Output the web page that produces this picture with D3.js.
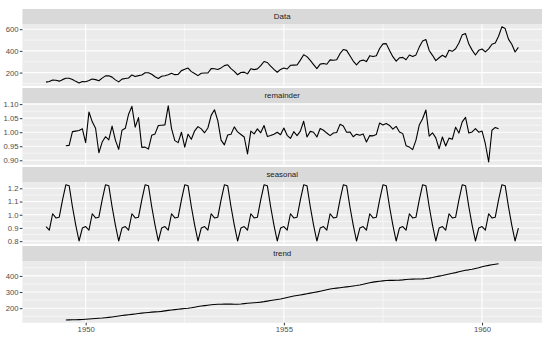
<!DOCTYPE html>
<html>
<head>
<meta charset="utf-8">
<script src="https://cdn.jsdelivr.net/npm/d3@7"></script>
<style>
  body { margin: 0; background: #fff; }
  svg { display: block; font-family: "Liberation Sans", Arial, sans-serif; }
</style>
</head>
<body>
<svg id="chart" width="550" height="338"></svg>
<script>
// monthly passengers, Jan 1949 .. Dec 1960
const passengers = [
  112, 118, 132, 129, 121, 135, 148, 148, 136, 119, 104, 118,
  115, 126, 141, 135, 125, 149, 170, 170, 158, 133, 114, 140,
  145, 150, 178, 163, 172, 178, 199, 199, 184, 162, 146, 166,
  171, 180, 193, 181, 183, 218, 230, 242, 209, 191, 172, 194,
  196, 196, 236, 235, 229, 243, 264, 272, 237, 211, 180, 201,
  204, 188, 235, 227, 234, 264, 302, 293, 259, 229, 203, 229,
  242, 233, 267, 269, 270, 315, 364, 347, 312, 274, 237, 278,
  284, 277, 317, 313, 318, 374, 413, 405, 355, 306, 271, 306,
  315, 301, 356, 348, 355, 422, 465, 467, 404, 347, 305, 336,
  340, 318, 362, 348, 363, 435, 491, 505, 404, 359, 310, 337,
  360, 342, 406, 396, 420, 472, 548, 559, 463, 407, 362, 405,
  417, 391, 419, 461, 472, 535, 622, 606, 508, 461, 390, 432
];

// trend, Jul 1949 .. Jun 1960
const trend = [
  126.79, 127.25, 127.96, 128.58, 129.00, 129.75,
  131.25, 133.08, 134.92, 136.42, 137.42, 138.75, 140.92, 143.17, 145.71, 148.42, 151.54, 154.71,
  157.13, 159.54, 161.83, 164.13, 166.67, 169.08, 171.25, 173.58, 175.46, 176.83, 178.04, 180.17,
  183.13, 186.21, 189.04, 191.29, 193.58, 195.83, 198.04, 199.75, 202.21, 206.25, 210.42, 213.38,
  215.83, 218.50, 220.92, 222.92, 224.08, 224.71, 225.33, 225.33, 224.96, 224.58, 224.46, 225.54,
  228.00, 230.46, 232.25, 233.92, 235.63, 237.75, 240.50, 243.96, 247.17, 250.25, 253.50, 257.13,
  261.83, 266.67, 271.13, 275.21, 278.50, 281.96, 285.75, 289.33, 293.25, 297.17, 301.00, 305.46,
  309.96, 314.42, 318.63, 321.75, 324.50, 327.08, 329.54, 331.83, 334.46, 337.54, 340.54, 344.08,
  348.25, 353.00, 357.63, 361.38, 364.50, 367.17, 369.46, 371.21, 372.17, 372.42, 372.75, 373.63,
  375.25, 377.92, 379.50, 380.00, 380.71, 380.96, 381.83, 383.67, 386.50, 390.33, 394.71, 398.63,
  402.54, 407.17, 411.88, 416.33, 420.50, 425.50, 430.71, 435.13, 437.71, 440.96, 445.83, 450.63,
  456.33, 461.38, 465.21, 469.33, 472.75, 475.04
];

// remainder, Jul 1949 .. Jun 1960
const remainder = [
  0.952, 0.953, 1.002, 1.004, 1.006, 1.012,
  0.963, 1.072, 1.037, 1.014, 0.927, 0.965, 0.984, 0.973, 1.022, 0.972, 0.939, 1.007,
  1.014, 1.064, 1.092, 1.018, 1.052, 0.946, 0.947, 0.940, 0.989, 0.994, 1.024, 1.025,
  1.026, 1.094, 1.013, 0.970, 0.963, 1.000, 0.947, 0.993, 0.975, 1.005, 1.020, 1.012,
  0.998, 1.015, 1.060, 1.080, 1.041, 0.972, 0.955, 0.990, 0.993, 1.019, 1.001, 0.992,
  0.983, 0.923, 1.004, 0.994, 1.012, 0.998, 1.024, 0.985, 0.988, 0.993, 1.000, 0.991,
  1.015, 0.989, 0.978, 1.002, 0.988, 1.004, 1.039, 0.983, 1.003, 1.000, 0.983, 1.013,
  1.007, 0.997, 0.988, 0.997, 0.999, 1.028, 1.022, 1.000, 1.001, 0.984, 0.993, 0.989,
  0.994, 0.965, 0.988, 0.987, 0.992, 1.033, 1.026, 1.031, 1.024, 1.011, 1.021, 1.001,
  0.995, 0.952, 0.947, 0.938, 0.972, 1.026, 1.048, 1.079, 0.986, 0.998, 0.980, 0.941,
  0.983, 0.951, 0.979, 0.975, 1.018, 0.997, 1.037, 1.053, 0.997, 1.001, 1.013, 1.000,
  1.004, 0.959, 0.894, 1.007, 1.017, 1.012
];

// seasonal figure, Jan .. Dec
const seasonalFigure = [0.9102, 0.8836, 1.0074, 0.9759, 0.9814, 1.1128,
                        1.2266, 1.2199, 1.0605, 0.9218, 0.8012, 0.8988];

const dataTicks = [200, 400, 600];
const remainderTicks = [0.90, 0.95, 1.00, 1.05, 1.10];
const seasonalTicks = [0.8, 0.9, 1.0, 1.1, 1.2];
const trendTicks = [200, 300, 400];
const yearTicks = [1950, 1955, 1960];

const startYear = 1949;
const trendStart = 1949.5;

// layout
const padL = 22.4, padR = 542;
const padT = 9, stripH = 15, panelH = 61.8, gap = 2.2;

const toSeries = (vals, start) => vals.map((v, i) => ({ t: start + i / 12, v }));

const panels = [
  { name: 'Data', series: toSeries(passengers, startYear), ticks: dataTicks, fmt: d3.format('d') },
  { name: 'remainder', series: toSeries(remainder, trendStart), ticks: remainderTicks, fmt: d3.format('.2f') },
  { name: 'seasonal', series: passengers.map((_, i) => ({ t: startYear + i / 12, v: seasonalFigure[i % 12] })),
    ticks: seasonalTicks, fmt: d3.format('.1f') },
  { name: 'trend', series: toSeries(trend, trendStart), ticks: trendTicks, fmt: d3.format('d') }
];

function expand([a, b]) {
  const p = (b - a) * 0.05;
  return [a - p, b + p];
}

// ggplot-style minor breaks: midpoints between majors, inside the limits
function minorBreaks(ticks, domain) {
  const step = ticks[1] - ticks[0];
  const ext = [ticks[0] - step, ...ticks, ticks[ticks.length - 1] + step];
  const out = [];
  for (let i = 0; i < ext.length - 1; i++) {
    const m = (ext[i] + ext[i + 1]) / 2;
    if (m >= domain[0] && m <= domain[1]) out.push(m);
  }
  return out;
}

const svg = d3.select('#chart');

const xDomain = expand([startYear, startYear + (passengers.length - 1) / 12]);
const x = d3.scaleLinear().domain(xDomain).range([padL, padR]);
const xMinor = minorBreaks(yearTicks, xDomain);

panels.forEach((p, i) => {
  const y0 = padT + i * (stripH + panelH + gap);
  const g = svg.append('g').attr('transform', `translate(0,${y0})`);

  // strip
  g.append('rect')
    .attr('x', padL).attr('y', 0)
    .attr('width', padR - padL).attr('height', stripH)
    .attr('fill', '#D9D9D9');
  g.append('text')
    .attr('x', (padL + padR) / 2)
    .attr('y', stripH / 2)
    .attr('dy', '0.35em')
    .attr('text-anchor', 'middle')
    .attr('font-size', '7.9px')
    .attr('fill', '#1A1A1A')
    .text(p.name);

  // panel
  g.append('rect')
    .attr('x', padL).attr('y', stripH)
    .attr('width', padR - padL).attr('height', panelH)
    .attr('fill', '#EBEBEB');

  const yDomain = expand(d3.extent(p.series, d => d.v));
  const y = d3.scaleLinear().domain(yDomain).range([stripH + panelH, stripH]);
  const yMinor = minorBreaks(p.ticks, yDomain);

  // minor grid
  g.selectAll('.ymin').data(yMinor).join('line')
    .attr('x1', padL).attr('x2', padR)
    .attr('y1', d => y(d)).attr('y2', d => y(d))
    .attr('stroke', '#fff').attr('stroke-width', 0.55);
  g.selectAll('.xmin').data(xMinor).join('line')
    .attr('x1', d => x(d)).attr('x2', d => x(d))
    .attr('y1', stripH).attr('y2', stripH + panelH)
    .attr('stroke', '#fff').attr('stroke-width', 0.55);

  // major grid
  g.selectAll('.ymaj').data(p.ticks).join('line')
    .attr('x1', padL).attr('x2', padR)
    .attr('y1', d => y(d)).attr('y2', d => y(d))
    .attr('stroke', '#fff').attr('stroke-width', 1.1);
  g.selectAll('.xmaj').data(yearTicks).join('line')
    .attr('x1', d => x(d)).attr('x2', d => x(d))
    .attr('y1', stripH).attr('y2', stripH + panelH)
    .attr('stroke', '#fff').attr('stroke-width', 1.1);

  // series line
  g.append('path')
    .datum(p.series)
    .attr('fill', 'none')
    .attr('stroke', '#000')
    .attr('stroke-width', 1.1)
    .attr('stroke-linejoin', 'round')
    .attr('d', d3.line().x(d => x(d.t)).y(d => y(d.v)));

  // y axis
  const ay = g.append('g')
    .attr('transform', `translate(${padL},0)`)
    .call(d3.axisLeft(y).tickValues(p.ticks).tickSize(2.6).tickPadding(1.3).tickFormat(p.fmt));
  ay.select('.domain').remove();
  ay.selectAll('line').attr('stroke', '#333333');
  ay.selectAll('text')
    .attr('fill', '#4D4D4D')
    .attr('font-size', '7.7px')
    .attr('font-family', '"Liberation Sans", Arial, sans-serif');

  // x axis only under the last panel
  if (i === panels.length - 1) {
    const ax = g.append('g')
      .attr('transform', `translate(0,${stripH + panelH})`)
      .call(d3.axisBottom(x).tickValues(yearTicks).tickSize(2.6).tickPadding(1.2).tickFormat(d3.format('d')));
    ax.select('.domain').remove();
    ax.selectAll('line').attr('stroke', '#333333');
    ax.selectAll('text')
      .attr('fill', '#4D4D4D')
      .attr('font-size', '7.7px')
      .attr('font-family', '"Liberation Sans", Arial, sans-serif');
  }
});
</script>
</body>
</html>
